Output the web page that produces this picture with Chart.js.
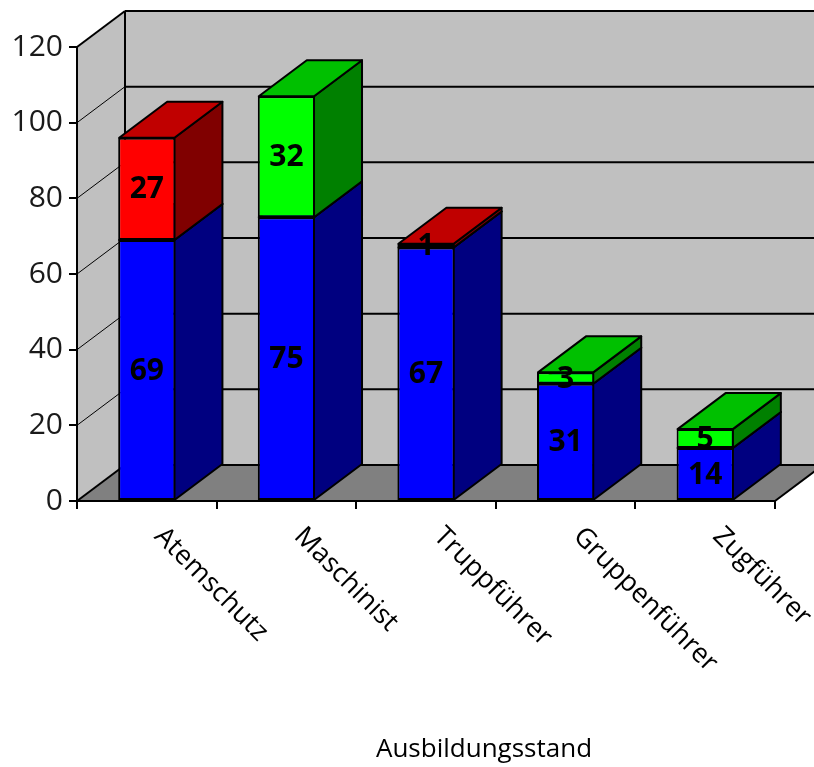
<!DOCTYPE html>
<html>
<head>
<meta charset="utf-8">
<title>Ausbildungsstand</title>
<script src="https://cdn.jsdelivr.net/npm/chart.js@4"></script>
<style>
	html, body { margin: 0; padding: 0; background: #fff; }
	canvas { display: block; }
</style>
</head>
<body>
<canvas id="stand-chart" width="814" height="767"></canvas>
<script>
const categories = ["Atemschutz", "Maschinist", "Truppführer", "Gruppenführer", "Zugführer"];
const blueValues = [69, 75, 67, 31, 14];
const redValues = [27, null, 1, null, null];
const greenValues = [null, 32, null, 3, 5];
const yTicks = [0, 20, 40, 60, 80, 100, 120];
const axisTitle = "Ausbildungsstand";

// depth of the fake 3d box
const dx = 48;
const dy = -36;
const uiFont = '"Open Sans", "Noto Sans", sans-serif';

function poly(ctx, pts, fill, stroke, lw) {
	ctx.beginPath();
	pts.forEach((p, i) => (i === 0 ? ctx.moveTo(p[0], p[1]) : ctx.lineTo(p[0], p[1])));
	ctx.closePath();
	if (fill) {
		ctx.fillStyle = fill;
		ctx.fill();
	}
	if (stroke) {
		ctx.strokeStyle = stroke;
		ctx.lineWidth = lw;
		ctx.stroke();
	}
}

function line(ctx, x1, y1, x2, y2, lw) {
	ctx.beginPath();
	ctx.moveTo(x1, y1);
	ctx.lineTo(x2, y2);
	ctx.strokeStyle = "#000";
	ctx.lineWidth = lw;
	ctx.stroke();
}

// walls and floor, painted under the axes
const wallsPlugin = {
	id: "walls",
	beforeDraw(chart) {
		const ctx = chart.ctx;
		const { left, right, top, bottom } = chart.chartArea;
		const y = chart.scales.y;
		ctx.save();
		poly(ctx, [[left + dx, top + dy], [right + dx, top + dy], [right + dx, bottom + dy], [left + dx, bottom + dy]], "#c0c0c0");
		poly(ctx, [[left, top], [left + dx, top + dy], [left + dx, bottom + dy], [left, bottom]], "#c0c0c0");
		poly(ctx, [[left, bottom], [right, bottom], [right + dx, bottom + dy], [left + dx, bottom + dy]], "#808080");
		yTicks.forEach((t) => {
			const py = y.getPixelForValue(t);
			const edge = t === 0 || t === 120;
			line(ctx, left, py, left + dx, py + dy, edge ? 2 : 1);
			line(ctx, left + dx, py + dy, right + dx, py + dy, 2);
		});
		line(ctx, left + dx, top + dy, left + dx, bottom + dy, 2);
		line(ctx, right, bottom, right + dx, bottom + dy, 2);
		ctx.restore();
	},
	beforeDatasetsDraw(chart) {
		// side and top faces, from the bottom of each stack upward
		const ctx = chart.ctx;
		ctx.save();
		ctx.lineJoin = "round";
		categories.forEach((c, i) => {
			chart.data.datasets.forEach((ds, d) => {
				if (ds.data[i] == null) return;
				const bar = chart.getDatasetMeta(d).data[i];
				const r = bar.x + bar.width / 2 - 1;
				const l = bar.x - bar.width / 2 + 1;
				poly(ctx, [[r, bar.y], [r + dx, bar.y + dy], [r + dx, bar.base + dy], [r, bar.base]], ds.sideColor, "#000", 2);
				poly(ctx, [[l, bar.y], [l + dx, bar.y + dy], [r + dx, bar.y + dy], [r, bar.y]], ds.topColor, "#000", 2);
			});
		});
		ctx.restore();
	},
	afterDraw(chart) {
		const ctx = chart.ctx;
		const x = chart.scales.x;
		ctx.save();
		ctx.fillStyle = "#000";
		// values on the bars
		ctx.font = "bold 30px " + uiFont;
		ctx.textAlign = "center";
		ctx.textBaseline = "middle";
		chart.data.datasets.forEach((ds, d) => {
			ds.data.forEach((v, i) => {
				if (v == null) return;
				const bar = chart.getDatasetMeta(d).data[i];
				ctx.fillText(String(v), bar.x, (bar.y + bar.base) / 2 + 1);
			});
		});
		// slanted category names
		ctx.font = "27px " + uiFont;
		ctx.textAlign = "left";
		ctx.textBaseline = "middle";
		categories.forEach((c, i) => {
			ctx.save();
			ctx.translate(x.getPixelForValue(i) + 12, 532);
			ctx.rotate(Math.PI / 4);
			ctx.fillText(c, 0, 0);
			ctx.restore();
		});
		ctx.font = "26px " + uiFont;
		ctx.textAlign = "center";
		ctx.fillText(axisTitle, 484, 750);
		ctx.restore();
	},
};

new Chart(document.getElementById("stand-chart"), {
	type: "bar",
	data: {
		labels: categories,
		datasets: [
			{ label: "Blau", data: blueValues, backgroundColor: "#0000ff", sideColor: "#000080", topColor: "#0000c0" },
			{ label: "Rot", data: redValues, backgroundColor: "#ff0000", sideColor: "#800000", topColor: "#c00000" },
			{ label: "Grün", data: greenValues, backgroundColor: "#00ff00", sideColor: "#008000", topColor: "#00c000" },
		],
	},
	plugins: [wallsPlugin],
	options: {
		responsive: false,
		animation: false,
		layout: { padding: { top: 47, right: 39, left: 0, bottom: 0 } },
		datasets: {
			bar: {
				barPercentage: 0.41,
				categoryPercentage: 1,
				borderColor: "#000",
				borderWidth: 2,
				borderSkipped: false,
			},
		},
		plugins: {
			legend: { display: false },
			tooltip: { enabled: false },
			title: { display: false },
		},
		scales: {
			x: {
				stacked: true,
				afterFit(scale) {
					scale.height = 266;
				},
				ticks: { display: false },
				border: { display: true, color: "#000", width: 2 },
				grid: {
					drawOnChartArea: false,
					drawTicks: true,
					tickLength: 8,
					tickColor: "#000",
					tickWidth: 2,
					color: "#000",
					lineWidth: 2,
				},
			},
			y: {
				stacked: true,
				min: 0,
				max: 120,
				afterFit(scale) {
					scale.width = 77;
				},
				ticks: {
					stepSize: 20,
					padding: 6,
					color: "#1a1a1a",
					font: { family: uiFont, size: 30 },
				},
				border: { display: true, color: "#000", width: 2 },
				grid: {
					drawOnChartArea: false,
					drawTicks: true,
					tickLength: 8,
					tickColor: "#000",
					tickWidth: 2,
					color: "#000",
					lineWidth: 2,
				},
			},
		},
	},
});
</script>
</body>
</html>
